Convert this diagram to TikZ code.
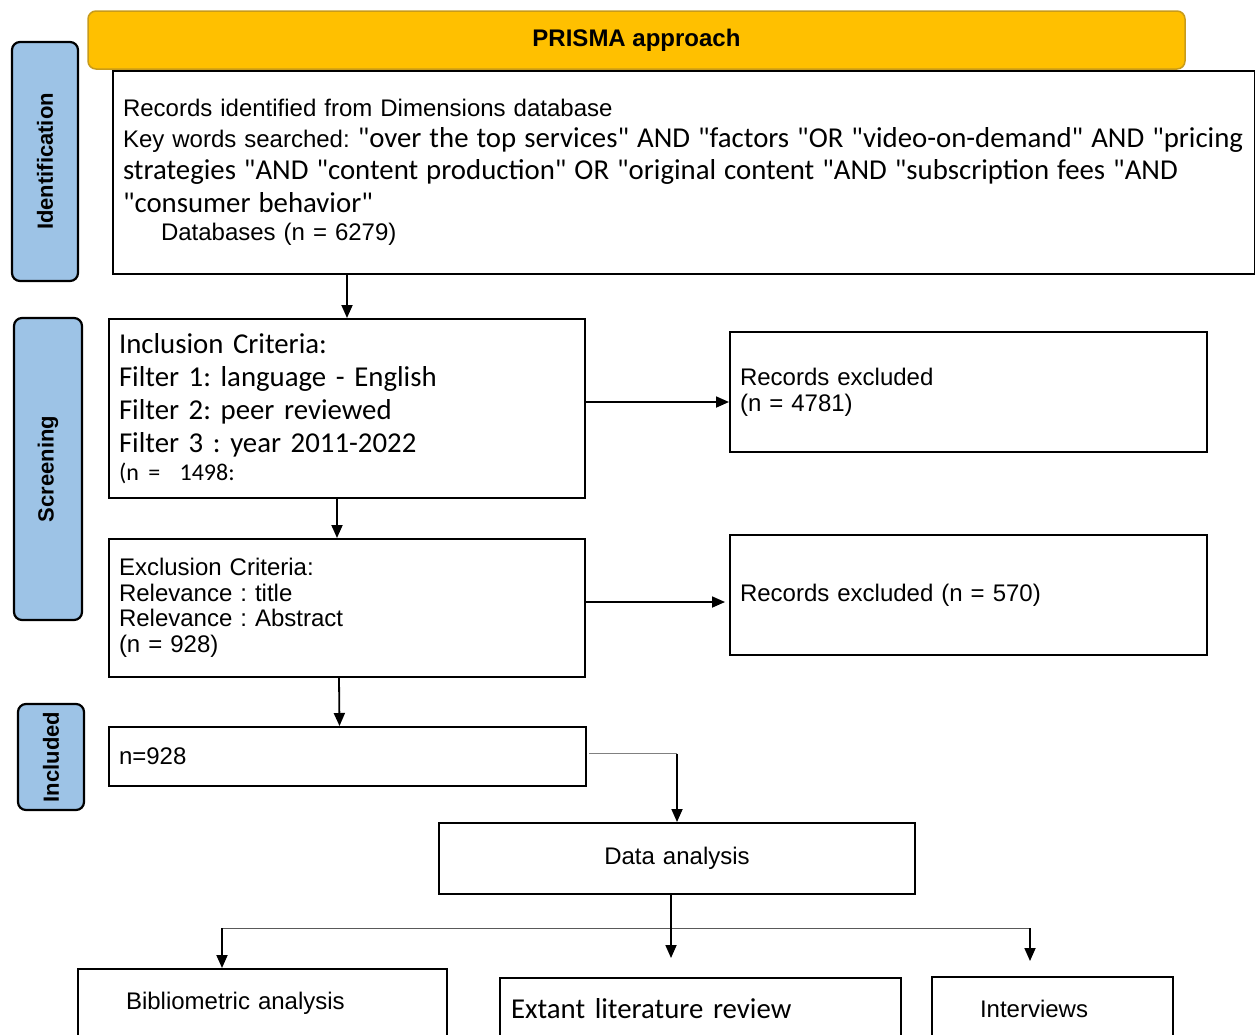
\documentclass[tikz,border=0pt]{standalone}
\usepackage{fontspec}
\setmainfont{Liberation Sans}
\newfontfamily\calfont{Carlito}
\usetikzlibrary{arrows.meta}
\definecolor{prismagold}{HTML}{FFC000}
\definecolor{prismaedge}{HTML}{C89B1A}
\definecolor{stageblue}{HTML}{9DC3E6}
\tikzset{
  >={Triangle[width=11pt,length=13pt]},
  box/.style={draw,line width=2pt,rectangle,anchor=north west,align=left,inner ysep=0pt,
    font=\fontsize{24}{26}\selectfont},
  stage/.style={draw,line width=2.2pt,rounded corners=8pt,fill=stageblue,rotate=90,
    inner sep=0pt,font=\bfseries\fontsize{22}{24}\selectfont},
  link/.style={->,line width=1.8pt},
}
\newcommand{\calbig}{\calfont\fontsize{28.8}{33}\selectfont}

\begin{document}
\frenchspacing
\begin{tikzpicture}[x=1pt,y=-1pt]
    \useasboundingbox (0,0) rectangle (1255,1034);

    % Stage labels
    \node[stage,minimum width=239pt,minimum height=66pt] (sid) at (45,161.5) {Identification};
    \node[stage,minimum width=302pt,minimum height=68pt] (sscr) at (48,469) {Screening};
    \node[stage,minimum width=106pt,minimum height=66pt] (sinc) at (51,757) {Included};

    % Identification box
    \node[box,inner xsep=10pt,text width=1122pt,minimum height=203pt,font=\fontsize{24}{31}\selectfont] (ident) at (112,70)
      {Records identified from Dimensions database\\
       \mbox{Key words searched: {\calbig "over the top services" AND "factors "OR "video-on-demand" AND "pricing}}\\[1pt]
       \mbox{\calbig strategies "AND "content production" OR "original content "AND "subscription fees "AND}\\[2pt]
       {\calbig "consumer behavior"}\\[-3pt]
       \hspace*{38pt}Databases (n = 6279)};

    % Title bar
    \node[fill=prismagold,draw=prismaedge,line width=1.5pt,rounded corners=8pt,
      minimum width=1097pt,minimum height=58pt,font=\bfseries\fontsize{24}{26}\selectfont]
      (title) at (636.5,40) {PRISMA approach};

    % Screening boxes
    \node[box,inner xsep=10pt,text width=456pt,minimum height=179pt,font=\calbig] (incl) at (108,318)
      {Inclusion Criteria:\\
       Filter 1: language - English\\
       Filter 2: peer reviewed\\
       Filter 3 : year 2011-2022\\[-5pt]
       {\fontsize{24}{26}\selectfont (n = \ 1498:}};
    \node[box,inner xsep=10pt,text width=457pt,minimum height=120pt] (rexa) at (729,331)
      {Records excluded\\(n = 4781)};
    \node[box,inner xsep=10pt,text width=456pt,minimum height=138pt,font=\fontsize{24}{25.5}\selectfont] (excl) at (108,538)
      {Exclusion Criteria:\\Relevance : title\\Relevance : Abstract\\(n = 928)};
    \node[box,inner xsep=10pt,text width=457pt,minimum height=120pt] (rexb) at (729,534)
      {Records excluded (n = 570)};

    % Included and analysis
    \node[box,inner xsep=10pt,text width=457pt,minimum height=59pt] (incd) at (108,726) {n=928};
    \node[box,align=center,inner xsep=0pt,text width=476pt,minimum height=71pt] (data) at (438,822) {Data analysis};
    \node[box,inner xsep=48pt,text width=273pt,minimum height=68pt] (bib) at (77,968) {Bibliometric analysis};
    \node[box,inner xsep=11pt,text width=379pt,minimum height=62pt,font=\calbig] (ext) at (499,977) {Extant literature review};
    \node[box,inner xsep=48pt,text width=145pt,minimum height=64pt] (intv) at (931,976) {Interviews};

    % Draw links
    \draw[link] (ident.south -| incl.north) -- (incl.north);
    \draw[link] ([yshift=6.5pt]incl.east) -- ([yshift=6.5pt]incl.east -| rexa.west);
    \draw[link] ([xshift=-10pt]incl.south) -- ([xshift=-10pt]excl.north);
    \draw[link,shorten >=4pt] ([yshift=6pt]excl.east) -- ([yshift=6pt]excl.east -| rexb.west);
    \draw[link] ([xshift=-8pt]excl.south) -- ([xshift=-8pt]incd.north);
    \draw[line width=1pt,gray] ([xshift=2pt,yshift=3pt]incd.east) -- ([yshift=3pt]incd.east -| data.north);
    \draw[link] ([yshift=3pt]incd.east -| data.north) -- (data.north);

    % Split to the three methods
    \coordinate (hl) at (222,928);
    \coordinate (hr) at (1030,928);
    \draw[line width=1pt,gray!70!black] (hl) -- (hr);
    \draw[link] ([xshift=-6pt]data.south) -- ++(0,63);
    \draw[link] (hl) -- (hl |- bib.north);
    \draw[link] (hr) -- ++(0,33);
\end{tikzpicture}
\end{document}
